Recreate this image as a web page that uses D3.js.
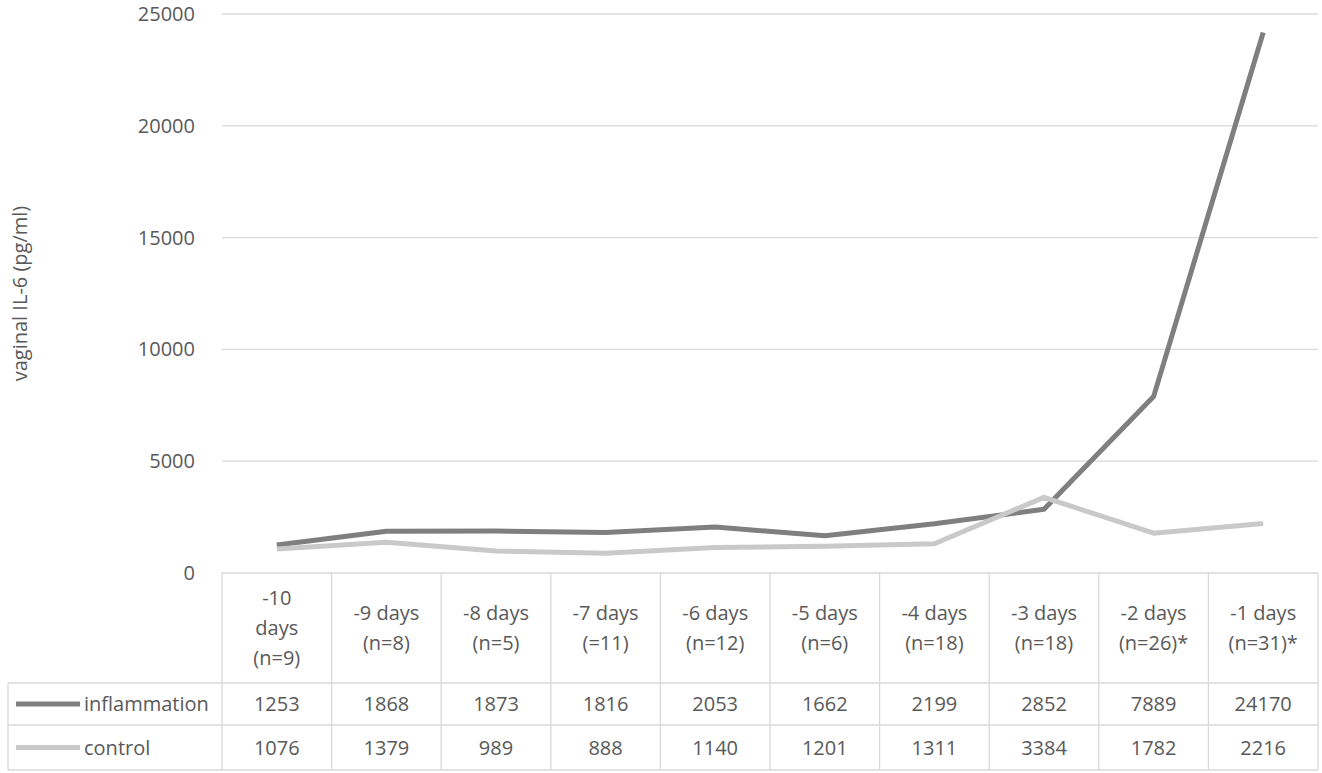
<!DOCTYPE html>
<html><head><meta charset="utf-8">
<script src="https://cdn.jsdelivr.net/npm/d3@7"></script>
<style>body{margin:0;background:#fff}text{font-family:"Open Sans","Liberation Sans",sans-serif;fill:#595959}</style>
</head><body>
<script>
// chart values
const categories = [["-10","days","(n=9)"],["-9 days","(n=8)"],["-8 days","(n=5)"],["-7 days","(=11)"],["-6 days","(n=12)"],
  ["-5 days","(n=6)"],["-4 days","(n=18)"],["-3 days","(n=18)"],["-2 days","(n=26)*"],["-1 days","(n=31)*"]];
const inflammation = [1253,1868,1873,1816,2053,1662,2199,2852,7889,24170];
const control = [1076,1379,989,888,1140,1201,1311,3384,1782,2216];
const yTicks = [0,5000,10000,15000,20000,25000];
const seriesNames = ["inflammation","control"];
const seriesColors = ["#7f7f7f","#c9c9c9"];

const W = 1322, H = 773;
const plotL = 222, plotR = 1318, plotT = 14, plotB = 573;
const svg = d3.select("body").append("svg").attr("width", W).attr("height", H);

const x = d3.scaleBand().domain(d3.range(categories.length)).range([plotL, plotR]);
const y = d3.scaleLinear().domain([0, 25000]).range([plotB, plotT]);

// gridlines
svg.append("g").selectAll("line").data(yTicks).join("line")
  .attr("x1", plotL).attr("x2", plotR).attr("y1", d => y(d)).attr("y2", d => y(d))
  .attr("stroke", "#d9d9d9").attr("stroke-width", 1.3);
svg.append("g").selectAll("text").data(yTicks).join("text")
  .attr("x", 195).attr("y", d => y(d) + 7).attr("text-anchor", "end")
  .attr("font-size", 20).text(d => d);

svg.append("text").attr("transform", `translate(27,${(plotT + plotB) / 2}) rotate(-90)`)
  .attr("text-anchor", "middle").attr("font-size", 20).text("vaginal IL-6 (pg/ml)");

// lines
const line = d3.line().x((d, i) => x(i) + x.bandwidth() / 2).y(d => y(d));
[inflammation, control].forEach((s, k) => {
  svg.append("path").datum(s).attr("d", line).attr("fill", "none")
    .attr("stroke", seriesColors[k]).attr("stroke-width", 5).attr("stroke-linejoin", "round");
});

// data table
const rowY = [573, 683, 725, 770];
const grid = svg.append("g").attr("stroke", "#d9d9d9").attr("stroke-width", 1.3);
d3.range(categories.length + 1).forEach(i => {
  const xx = i < categories.length ? x(i) : plotR;
  grid.append("line").attr("x1", xx).attr("x2", xx).attr("y1", rowY[0]).attr("y2", rowY[3]);
});
grid.append("line").attr("x1", 8).attr("x2", 8).attr("y1", rowY[1]).attr("y2", rowY[3]);
[1, 2, 3].forEach(r => grid.append("line").attr("x1", 8).attr("x2", plotR).attr("y1", rowY[r]).attr("y2", rowY[r]));

categories.forEach((lines, i) => {
  const n = lines.length;
  const t = svg.append("text").attr("text-anchor", "middle").attr("font-size", 20);
  lines.forEach((l, j) => {
    t.append("tspan").attr("x", x(i) + x.bandwidth() / 2)
      .attr("y", (rowY[0] + rowY[1]) / 2 + 7 + (j - (n - 1) / 2) * 30).text(l);
  });
});

[inflammation, control].forEach((s, k) => {
  const cy = (rowY[k + 1] + rowY[k + 2]) / 2;
  svg.append("line").attr("x1", 16).attr("x2", 80).attr("y1", cy).attr("y2", cy)
    .attr("stroke", seriesColors[k]).attr("stroke-width", 5);
  svg.append("text").attr("x", 84).attr("y", cy + 7).attr("font-size", 20).text(seriesNames[k]);
  svg.append("g").selectAll("text").data(s).join("text")
    .attr("x", (d, i) => x(i) + x.bandwidth() / 2).attr("y", cy + 7)
    .attr("text-anchor", "middle").attr("font-size", 20).text(d => d);
});
</script>
</body></html>
